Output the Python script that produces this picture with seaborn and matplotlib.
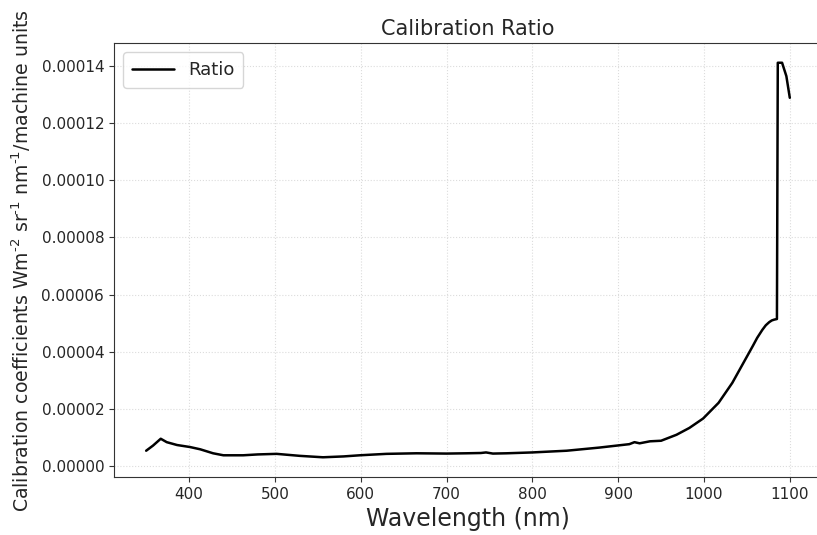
import numpy as np
import pandas as pd
import seaborn as sns
import matplotlib
matplotlib.use("Agg")
import matplotlib.pyplot as plt
from matplotlib.ticker import FormatStrFormatter

# wavelength (nm) and calibration ratio
wavelength = [350, 358, 367, 374, 386, 401, 413, 428, 440, 463,
              480, 502, 529, 556, 580, 599, 630, 665, 700, 723,
              740, 746, 754, 770, 800, 820, 840, 878, 913, 919,
              925, 937, 950, 968, 983, 999, 1017, 1033, 1045, 1057,
              1062, 1068, 1072, 1076, 1079, 1082, 1085, 1086, 1091, 1096,
              1100]
ratio = [5.2e-6, 7.0e-6, 9.4e-6, 8.2e-6, 7.2e-6, 6.5e-6, 5.7e-6, 4.3e-6, 3.6e-6, 3.6e-6,
         3.9e-6, 4.1e-6, 3.4e-6, 2.9e-6, 3.2e-6, 3.6e-6, 4.1e-6, 4.3e-6, 4.2e-6, 4.3e-6,
         4.4e-6, 4.6e-6, 4.2e-6, 4.3e-6, 4.6e-6, 4.9e-6, 5.2e-6, 6.3e-6, 7.5e-6, 8.2e-6,
         7.8e-6, 8.5e-6, 8.7e-6, 10.8e-6, 13.2e-6, 16.5e-6, 22.0e-6, 29.0e-6, 35.5e-6, 42.0e-6,
         44.8e-6, 47.6e-6, 49.2e-6, 50.3e-6, 50.9e-6, 51.2e-6, 51.4e-6, 141.3e-6, 141.3e-6, 136.6e-6,
         129.0e-6]

df = pd.DataFrame({"wavelength": wavelength, "ratio": ratio})

sns.set_style("ticks")
plt.rcParams['font.family'] = ['DejaVu Sans']

fig = plt.figure(figsize=(8.17, 5.35), dpi=100)
# the reference is cropped on the right, so the axes run a little past the figure edge
ax = fig.add_axes([0.1395, 0.1084, 0.8666, 0.8112])

sns.lineplot(data=df, x="wavelength", y="ratio", color="black",
             linewidth=1.8, label="Ratio", ax=ax)

ax.set_xlim(312.5, 1137.5)
ax.grid(True, linestyle=":", color="#dcdcdc", linewidth=0.8)
ax.yaxis.set_major_formatter(FormatStrFormatter("%.5f"))
ax.set_xticks([400, 500, 600, 700, 800, 900, 1000, 1100])
ax.tick_params(labelsize=11, color="#333333")
for s in ax.spines.values():
    s.set_color("#333333")

ax.set_title("Calibration Ratio", fontsize=15)
ax.set_xlabel("Wavelength (nm)", fontsize=17)
ax.set_ylabel(r"Calibration coefficients Wm$^{\text{-2}}$ sr$^{\text{-1}}$ nm$^{\text{-1}}$/machine units",
              fontsize=13.6, labelpad=6)
ax.legend(loc="upper left", fontsize=13, frameon=True, edgecolor="#cccccc",
          handlelength=2.3, borderpad=0.5)

fig.savefig("out.png", dpi=100)
